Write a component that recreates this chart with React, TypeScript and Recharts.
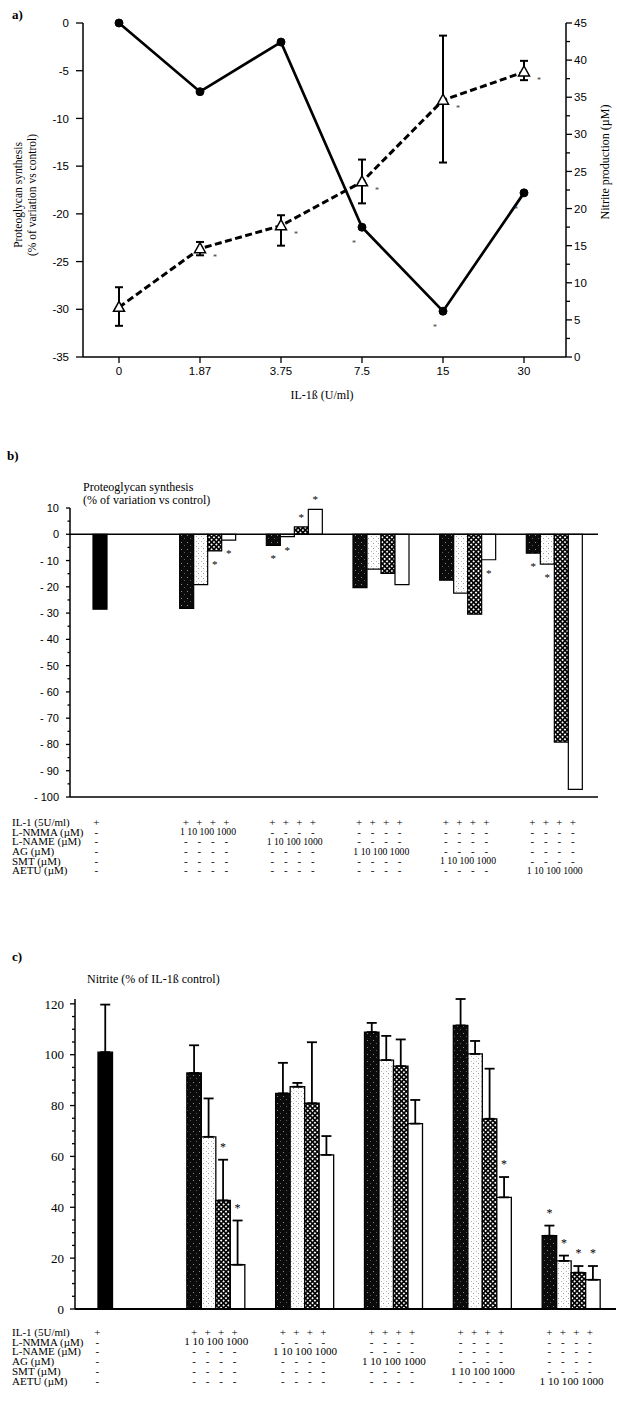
import React from "react";
import {
  LineChart,
  Line,
  BarChart,
  Bar,
  XAxis,
  YAxis,
  ErrorBar,
  LabelList,
  ReferenceLine,
  Cell,
} from "recharts";

// ---- a) proteoglycan synthesis and nitrite vs IL-1ß dose
const doses = ["0", "1.87", "3.75", "7.5", "15", "30"];
const proteoglycan = [0, -7.2, -2.0, -21.4, -30.2, -17.8];
const proteoglycanSig = [false, false, false, true, true, true];
const nitrite = [6.7, 14.6, 17.7, 23.6, 34.6, 38.4];
const nitriteErrLow = [2.5, 0.9, 2.7, 2.9, 8.4, 1.1];
const nitriteErrHigh = [2.7, 0.9, 1.4, 3.0, 8.7, 1.5];
const nitriteSig = [false, true, true, true, true, true];
const ticksALeft = [-35, -30, -25, -20, -15, -10, -5, 0];
const ticksARight = [0, 2.5, 5, 7.5, 10, 12.5, 15, 17.5, 20, 22.5, 25, 27.5, 30, 32.5, 35, 37.5, 40, 42.5, 45];

// ---- b) and c) NOS inhibitors
const groups = ["IL-1", "L-NMMA", "L-NAME", "AG", "SMT", "AETU"];
const rowLabels = ["IL-1 (5U/ml)", "L-NMMA (µM)", "L-NAME (µM)", "AG (µM)", "SMT (µM)", "AETU (µM)"];
const concentrations = ["1", "10", "100", "1000"];

// b) proteoglycan synthesis, % of variation vs control
const pgDose1 = [-28.5, -28.2, -4.2, -20.3, -17.5, -7.2];
const pgDose10 = [null, -19.2, -0.9, -13.3, -22.4, -11.4];
const pgDose100 = [null, -6.3, 2.8, -14.9, -30.4, -79.1];
const pgDose1000 = [null, -2.2, 9.5, -19.2, -9.7, -97.1];
const pgSig1 = [false, false, true, false, false, true];
const pgSig10 = [false, false, true, false, false, true];
const pgSig100 = [false, true, true, false, false, false];
const pgSig1000 = [false, true, true, false, true, false];
const ticksB = [-100, -95, -90, -85, -80, -75, -70, -65, -60, -55, -50, -45, -40, -35, -30, -25, -20, -15, -10, -5, 0, 5, 10];

// c) nitrite, % of IL-1ß control
const noDose1 = [101, 92.8, 84.8, 108.9, 111.5, 28.8];
const noErr1 = [18.7, 10.9, 12.0, 3.6, 10.4, 4.0];
const noDose10 = [null, 67.7, 87.4, 97.9, 100.3, 18.9];
const noErr10 = [null, 15.1, 1.5, 9.5, 5.1, 2.1];
const noDose100 = [null, 42.7, 80.9, 95.5, 74.8, 14.3];
const noErr100 = [null, 16.0, 24.0, 10.5, 19.7, 2.6];
const noDose1000 = [null, 17.4, 60.6, 72.9, 43.9, 11.5];
const noErr1000 = [null, 17.4, 7.4, 9.3, 8.0, 5.4];
const noSig1 = [false, false, false, false, false, true];
const noSig10 = [false, false, false, false, false, true];
const noSig100 = [false, true, false, false, false, true];
const noSig1000 = [false, true, false, false, true, true];
const ticksC = [0, 5, 10, 15, 20, 25, 30, 35, 40, 45, 50, 55, 60, 65, 70, 75, 80, 85, 90, 95, 100, 105, 110, 115, 120];

const seriesKeys = ["d1", "d10", "d100", "d1000"];
const seriesFills = ["url(#pDark)", "url(#pDots)", "url(#pCross)", "#ffffff"];

const dataA = doses.map((d, i) => ({
  dose: d,
  pg: proteoglycan[i],
  no: nitrite[i],
  noErr: [nitriteErrLow[i], nitriteErrHigh[i]],
}));

const dataB = groups.map((g, i) => ({
  group: g,
  d1: pgDose1[i],
  d10: pgDose10[i],
  d100: pgDose100[i],
  d1000: pgDose1000[i],
}));
const valuesB = [pgDose1, pgDose10, pgDose100, pgDose1000];
const sigB = [pgSig1, pgSig10, pgSig100, pgSig1000];

const upErr = (e: number | null) => (e == null ? null : [0, e]);
const dataC = groups.map((g, i) => ({
  group: g,
  d1: noDose1[i],
  d10: noDose10[i],
  d100: noDose100[i],
  d1000: noDose1000[i],
  e1: upErr(noErr1[i]),
  e10: upErr(noErr10[i]),
  e100: upErr(noErr100[i]),
  e1000: upErr(noErr1000[i]),
}));
const valuesC = [noDose1, noDose10, noDose100, noDose1000];
const sigC = [noSig1, noSig10, noSig100, noSig1000];
const errC = [noErr1, noErr10, noErr100, noErr1000];
const errKeys = ["e1", "e10", "e100", "e1000"];

// LabelList skips empty bars, so map its index back to the group index
const groupIndexOf = (values: (number | null)[]) =>
  values.map((v, i) => (v == null ? -1 : i)).filter((i) => i >= 0);

const SANS = "Liberation Sans, Arial, sans-serif";
const SERIF = "Liberation Serif, Times New Roman, serif";

type TickOpts = {
  side: "left" | "right";
  size: number;
  minorSize: number;
  margin: number;
  isMajor: (v: number) => boolean;
  fmt: (v: number) => string;
  font: string;
  fontSize: number;
};

function axisTick(o: TickOpts) {
  return (props: any) => {
    const { x, y, payload } = props;
    const v = Number(payload.value);
    const major = o.isMajor(v);
    const len = major ? o.size : o.minorSize;
    const ax = o.side === "left" ? x + o.margin + o.size : x - o.margin - o.size;
    const x2 = o.side === "left" ? ax - len : ax + len;
    return (
      <g>
        <line x1={ax} x2={x2} y1={y} y2={y} stroke="#000" strokeWidth={1.3} />
        {major && (
          <text
            x={x}
            y={y}
            dy="0.36em"
            textAnchor={o.side === "left" ? "end" : "start"}
            fontFamily={o.font}
            fontSize={o.fontSize}
            fill="#000"
          >
            {o.fmt(v)}
          </text>
        )}
      </g>
    );
  };
}

// table of treatments under the bar charts
function tableTick(o: { firstRow: number; rowGap: number; ctrlDx: number; concLen: number; fontSize: number }) {
  return (props: any) => {
    const { x, y, payload } = props;
    const gi = groups.indexOf(payload.value);
    const items: React.ReactNode[] = [];
    rowLabels.forEach((label, r) => {
      const ry = y + o.firstRow + r * o.rowGap;
      const common = { fontFamily: SERIF, fill: "#000", dy: "0.35em" };
      if (gi === 0) {
        items.push(
          <text key={`l${r}`} x={12} y={ry} fontSize={11} {...common}>
            {label}
          </text>
        );
        items.push(
          <text key={`c${r}`} x={x + o.ctrlDx} y={ry} fontSize={11} textAnchor="middle" {...common}>
            {r === 0 ? "+" : "-"}
          </text>
        );
      } else if (r === gi) {
        items.push(
          <text
            key={`n${r}`}
            x={x}
            y={ry}
            fontSize={o.fontSize}
            textAnchor="middle"
            textLength={o.concLen}
            lengthAdjust="spacingAndGlyphs"
            {...common}
          >
            {concentrations.join(" ")}
          </text>
        );
      } else {
        concentrations.forEach((_, i) => {
          items.push(
            <text key={`s${r}-${i}`} x={x + (i - 1.5) * 13.5 - 2} y={ry} fontSize={11} textAnchor="middle" {...common}>
              {r === 0 ? "+" : "-"}
            </text>
          );
        });
      }
    });
    return <g>{items}</g>;
  };
}

function pointStar(flags: boolean[], dx: number, dy: number) {
  return (p: any) => {
    const { x, y, index } = p;
    if (!flags[index]) return null;
    return (
      <text x={x + dx} y={y + dy} textAnchor="middle" fontSize={8} fontFamily={SERIF} fill="#333">
        *
      </text>
    );
  };
}

function barStar(values: (number | null)[], flags: boolean[]) {
  const idx = groupIndexOf(values);
  return (p: any) => {
    const { x, y, width, height, index } = p;
    const gi = idx[index];
    if (gi == null || !flags[gi]) return null;
    const top = Math.min(y, y + height);
    const bot = Math.max(y, y + height);
    const ty = Number(values[gi]) < 0 ? bot + 17 : top - 6;
    return (
      <text x={x + width / 2} y={ty} textAnchor="middle" fontSize={11} fontFamily={SERIF} fill="#000">
        *
      </text>
    );
  };
}

function errStar(values: (number | null)[], flags: boolean[], errs: (number | null)[]) {
  const idx = groupIndexOf(values);
  return (p: any) => {
    const { x, y, width, height, index } = p;
    const gi = idx[index];
    if (gi == null || !flags[gi]) return null;
    const v = Number(values[gi]);
    const top = Math.min(y, y + height);
    const errTop = top - ((errs[gi] ?? 0) * Math.abs(height)) / v;
    return (
      <text x={x + width / 2} y={errTop - 9} textAnchor="middle" fontSize={12} fontFamily={SERIF} fill="#000">
        *
      </text>
    );
  };
}

const Triangle = (p: any) => {
  const { cx, cy } = p;
  if (cx == null || cy == null) return null;
  return (
    <path
      d={`M${cx},${cy - 6} L${cx + 5.5},${cy + 4} L${cx - 5.5},${cy + 4} Z`}
      fill="#fff"
      stroke="#000"
      strokeWidth={1.5}
    />
  );
};

function Patterns() {
  return (
    <svg width={0} height={0} style={{ position: "absolute" }}>
      <defs>
        <pattern id="pDark" width="6" height="7" patternUnits="userSpaceOnUse">
          <rect width="6" height="7" fill="#0b0b0b" />
          <rect x="1" y="2" width="1" height="1" fill="#8a8a8a" />
          <rect x="4" y="5" width="1" height="1" fill="#5e5e5e" />
        </pattern>
        <pattern id="pDots" width="5" height="5" patternUnits="userSpaceOnUse">
          <rect width="5" height="5" fill="#fff" />
          <rect x="1" y="1" width="1" height="1" fill="#b4b4b4" />
          <rect x="3" y="3" width="1" height="1" fill="#9c9c9c" />
          <rect x="3.6" y="0.4" width="0.8" height="0.8" fill="#cfcfcf" />
        </pattern>
        <pattern id="pCross" width="3.4" height="3.4" patternUnits="userSpaceOnUse" patternTransform="rotate(45)">
          <rect width="3.4" height="3.4" fill="#000" />
          <rect x="0.8" y="0.8" width="1.8" height="1.8" fill="#fff" />
        </pattern>
      </defs>
    </svg>
  );
}

function PanelA() {
  return (
    <LineChart width={617} height={420} data={dataA} margin={{ top: 23, right: 11, bottom: 33, left: 13 }}>
      <XAxis
        dataKey="dose"
        interval={0}
        padding={{ left: 36, right: 42 }}
        tickSize={6}
        tickMargin={4}
        axisLine={{ stroke: "#000", strokeWidth: 1.5 }}
        tickLine={{ stroke: "#000", strokeWidth: 1.3 }}
        tick={{ fill: "#000", fontSize: 11.5, fontFamily: SANS }}
        height={30}
      />
      <YAxis
        yAxisId="left"
        domain={[-35, 0]}
        ticks={ticksALeft}
        interval={0}
        width={70}
        tickSize={7}
        tickMargin={7}
        tickLine={false}
        axisLine={{ stroke: "#000", strokeWidth: 1.5 }}
        tick={axisTick({
          side: "left",
          size: 7,
          minorSize: 4,
          margin: 7,
          isMajor: () => true,
          fmt: (v) => String(v),
          font: SANS,
          fontSize: 11.5,
        })}
      />
      <YAxis
        yAxisId="right"
        orientation="right"
        domain={[0, 45]}
        ticks={ticksARight}
        interval={0}
        width={40}
        tickSize={6}
        tickMargin={2}
        tickLine={false}
        axisLine={{ stroke: "#000", strokeWidth: 1.5 }}
        tick={axisTick({
          side: "right",
          size: 6,
          minorSize: 4,
          margin: 2,
          isMajor: (v) => v % 5 === 0,
          fmt: (v) => String(v),
          font: SANS,
          fontSize: 11.5,
        })}
      />
      <Line
        yAxisId="left"
        type="linear"
        dataKey="pg"
        stroke="#000"
        strokeWidth={2.7}
        dot={{ r: 4, fill: "#000", stroke: "#000", strokeWidth: 1 }}
        isAnimationActive={false}
      >
        <LabelList dataKey="pg" content={pointStar(proteoglycanSig, -8, 19)} />
      </Line>
      <Line
        yAxisId="right"
        type="linear"
        dataKey="no"
        stroke="#000"
        strokeWidth={3}
        strokeDasharray="7 3.5"
        dot={<Triangle />}
        isAnimationActive={false}
      >
        <ErrorBar dataKey="noErr" direction="y" width={4} strokeWidth={2} stroke="#000" />
        <LabelList dataKey="no" content={pointStar(nitriteSig, 15, 11)} />
      </Line>
    </LineChart>
  );
}

function PanelB() {
  return (
    <BarChart
      width={617}
      height={420}
      data={dataB}
      margin={{ top: 38, right: 19, bottom: 0, left: 10 }}
      barGap={0}
      barSize={14}
    >
      <XAxis
        dataKey="group"
        interval={0}
        padding={{ left: 8, right: 0 }}
        height={93}
        tickSize={0}
        tickMargin={0}
        tickLine={false}
        axisLine={{ stroke: "#000", strokeWidth: 1.6 }}
        tick={tableTick({ firstRow: 25, rowGap: 9.7, ctrlDx: -25, concLen: 56, fontSize: 10 })}
      />
      <YAxis
        domain={[-100, 10]}
        ticks={ticksB}
        interval={0}
        width={60}
        tickSize={4}
        tickMargin={7}
        tickLine={false}
        axisLine={{ stroke: "#000", strokeWidth: 1.5 }}
        tick={axisTick({
          side: "left",
          size: 4,
          minorSize: 2.5,
          margin: 7,
          isMajor: (v) => v % 10 === 0,
          fmt: (v) => (v < 0 ? `- ${-v}` : String(v)),
          font: SANS,
          fontSize: 11,
        })}
      />
      {seriesKeys.map((k, si) => (
        <Bar
          key={k}
          dataKey={k}
          fill={seriesFills[si]}
          stroke="#000"
          strokeWidth={1.2}
          isAnimationActive={false}
        >
          {si === 0 && dataB.map((_, i) => <Cell key={i} fill={i === 0 ? "#000" : seriesFills[0]} />)}
          <LabelList dataKey={k} content={barStar(valuesB[si], sigB[si])} />
        </Bar>
      ))}
      <ReferenceLine y={0} stroke="#000" strokeWidth={1.6} />
    </BarChart>
  );
}

function PanelC() {
  return (
    <BarChart
      width={617}
      height={467}
      data={dataC}
      margin={{ top: 59, right: 1, bottom: 0, left: 15 }}
      barGap={0}
      barSize={14.5}
    >
      <XAxis
        dataKey="group"
        interval={0}
        padding={{ left: 8, right: 0 }}
        height={98}
        tickSize={0}
        tickMargin={0}
        tickLine={false}
        axisLine={{ stroke: "#000", strokeWidth: 1.8 }}
        tick={tableTick({ firstRow: 23, rowGap: 9.8, ctrlDx: -30, concLen: 64, fontSize: 10.5 })}
      />
      <YAxis
        domain={[0, 120]}
        ticks={ticksC}
        interval={0}
        width={60}
        tickSize={5}
        tickMargin={6}
        tickLine={false}
        axisLine={{ stroke: "#000", strokeWidth: 1.5 }}
        tick={axisTick({
          side: "left",
          size: 5,
          minorSize: 3,
          margin: 6,
          isMajor: (v) => v % 20 === 0,
          fmt: (v) => String(v),
          font: SERIF,
          fontSize: 13,
        })}
      />
      {seriesKeys.map((k, si) => (
        <Bar
          key={k}
          dataKey={k}
          fill={seriesFills[si]}
          stroke="#000"
          strokeWidth={1.3}
          isAnimationActive={false}
        >
          {si === 0 && dataC.map((_, i) => <Cell key={i} fill={i === 0 ? "#000" : seriesFills[0]} />)}
          <ErrorBar dataKey={errKeys[si]} direction="y" width={5} strokeWidth={1.8} stroke="#000" />
          <LabelList dataKey={k} content={errStar(valuesC[si], sigC[si], errC[si])} />
        </Bar>
      ))}
    </BarChart>
  );
}

function Texts() {
  const t = { fontFamily: SERIF, fill: "#000" };
  return (
    <svg
      width={617}
      height={1407}
      style={{ position: "absolute", left: 0, top: 0, pointerEvents: "none" }}
    >
      <text x={12} y={19} fontSize={13} fontWeight="bold" {...t}>a)</text>
      <text x={18} y={195} fontSize={11.5} textAnchor="middle" dominantBaseline="central" transform="rotate(-90 18 195)" {...t}>
        Proteoglycan synthesis
      </text>
      <text x={31.5} y={195} fontSize={11.5} textAnchor="middle" dominantBaseline="central" transform="rotate(-90 31.5 195)" {...t}>
        (% of variation vs control)
      </text>
      <text x={605} y={162} fontSize={12} textAnchor="middle" dominantBaseline="central" transform="rotate(-90 605 162)" {...t}>
        Nitrite production (µM)
      </text>
      <text x={322} y={395} fontSize={12} textAnchor="middle" dominantBaseline="central" {...t}>
        IL-1ß (U/ml)
      </text>

      <text x={7} y={460} fontSize={13} fontWeight="bold" {...t}>b)</text>
      <text x={83} y={486.5} fontSize={12} dominantBaseline="central" {...t}>Proteoglycan synthesis</text>
      <text x={83} y={500} fontSize={12} dominantBaseline="central" {...t}>(% of variation vs control)</text>

      <text x={12} y={961} fontSize={13} fontWeight="bold" {...t}>c)</text>
      <text x={87} y={979} fontSize={12} dominantBaseline="central" {...t}>Nitrite (% of IL-1ß control)</text>
    </svg>
  );
}

export default function App() {
  return (
    <div style={{ position: "absolute", left: 0, top: 0, width: 617, height: 1407, background: "#fff", overflow: "hidden" }}>
      <Patterns />
      <div style={{ position: "absolute", left: 0, top: 0 }}>
        <PanelA />
      </div>
      <div style={{ position: "absolute", left: 0, top: 470 }}>
        <PanelB />
      </div>
      <div style={{ position: "absolute", left: 0, top: 940 }}>
        <PanelC />
      </div>
      <Texts />
    </div>
  );
}
